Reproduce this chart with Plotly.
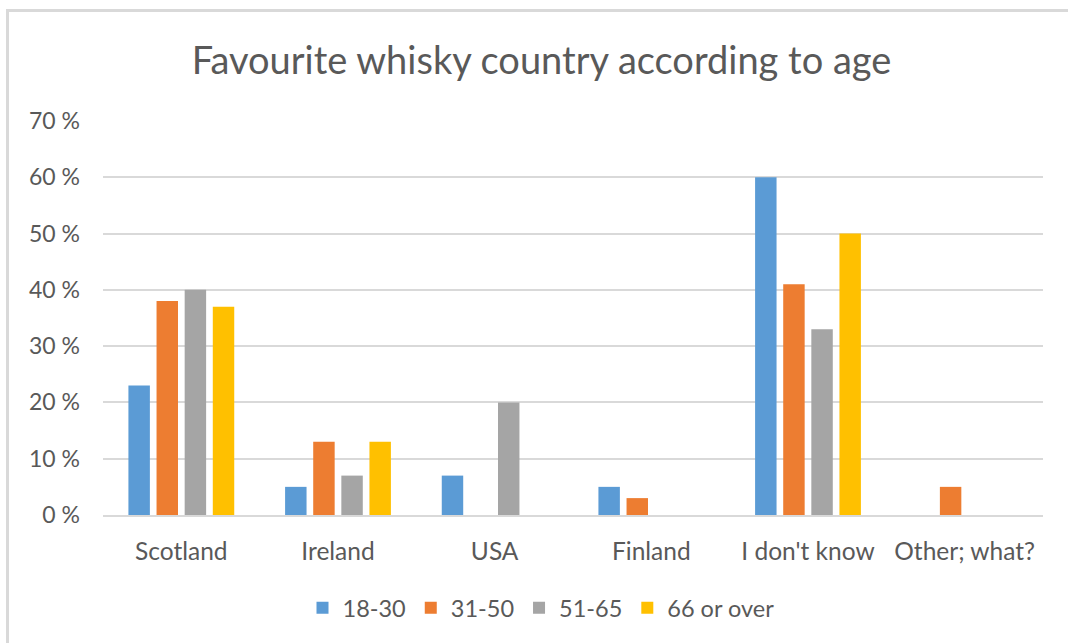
import plotly.graph_objects as go

# Survey results: favourite whisky country by age group (percent of respondents)
categories = ["Scotland", "Ireland", "USA", "Finland", "I don't know", "Other; what?"]
age_groups = ["18-30", "31-50", "51-65", "66 or over"]
share_18_30 = [23, 5, 7, 5, 60, 0]
share_31_50 = [38, 13, 0, 3, 41, 5]
share_51_65 = [40, 7, 20, 0, 33, 0]
share_66_over = [37, 13, 0, 0, 50, 0]
y_tick_values = [0, 10, 20, 30, 40, 50, 60, 70]
y_tick_labels = ["0 %", "10 %", "20 %", "30 %", "40 %", "50 %", "60 %", "70 %"]

series = [share_18_30, share_31_50, share_51_65, share_66_over]
colors = ["#5B9BD5", "#ED7D31", "#A5A5A5", "#FFC000"]

FONT = "Lato, Carlito, Calibri, sans-serif"
TEXT = "#595959"

W, H = 1068, 643
L, R, T, B = 103, 25, 121, 128
plot_w = W - L - R
plot_h = H - T - B

fig = go.Figure()
for name, vals, col in zip(age_groups, series, colors):
    fig.add_trace(go.Bar(
        x=categories, y=vals, name=name,
        marker=dict(color=col, line=dict(width=0)),
    ))

# light frame around the chart area (open to the right and bottom)
def px_x(px):
    return (px - L) / plot_w

def px_y(py):
    return (H - B - py) / plot_h

fig.add_shape(type="rect", xref="paper", yref="paper",
              x0=px_x(7.5), x1=px_x(1100), y0=px_y(10.5), y1=px_y(700),
              line=dict(color="#D9D9D9", width=3), fillcolor="rgba(0,0,0,0)",
              layer="below")

fig.update_layout(
    width=W, height=H,
    margin=dict(l=L, r=R, t=T, b=B, pad=0),
    paper_bgcolor="white", plot_bgcolor="white",
    barmode="group", bargap=0.282, bargroupgap=0.237,
    font=dict(family=FONT, color=TEXT),
    title=dict(text="Favourite whisky country according to age",
               font=dict(family=FONT, size=38, color=TEXT),
               x=541.5 / W, xanchor="center", xref="container",
               y=1 - 61 / H, yanchor="middle", yref="container"),
    xaxis=dict(showgrid=False, showline=True, linecolor="#D9D9D9", linewidth=1.5,
               ticks="", tickfont=dict(size=24.5, color=TEXT),
               ticklabelstandoff=14, fixedrange=True),
    yaxis=dict(range=[0, 70], tickvals=y_tick_values, ticktext=y_tick_labels,
               showgrid=True, gridcolor="#D9D9D9", gridwidth=1.5,
               zeroline=False, showline=False, ticks="",
               tickfont=dict(size=23, color=TEXT), ticklabelstandoff=22,
               fixedrange=True),
    legend=dict(orientation="h", x=px_x(541), xanchor="center",
                y=px_y(608), yanchor="middle",
                font=dict(size=23.5, color=TEXT), itemwidth=30,
                traceorder="normal", bgcolor="rgba(0,0,0,0)"),
    showlegend=True,
)

fig.write_html("out.html")
